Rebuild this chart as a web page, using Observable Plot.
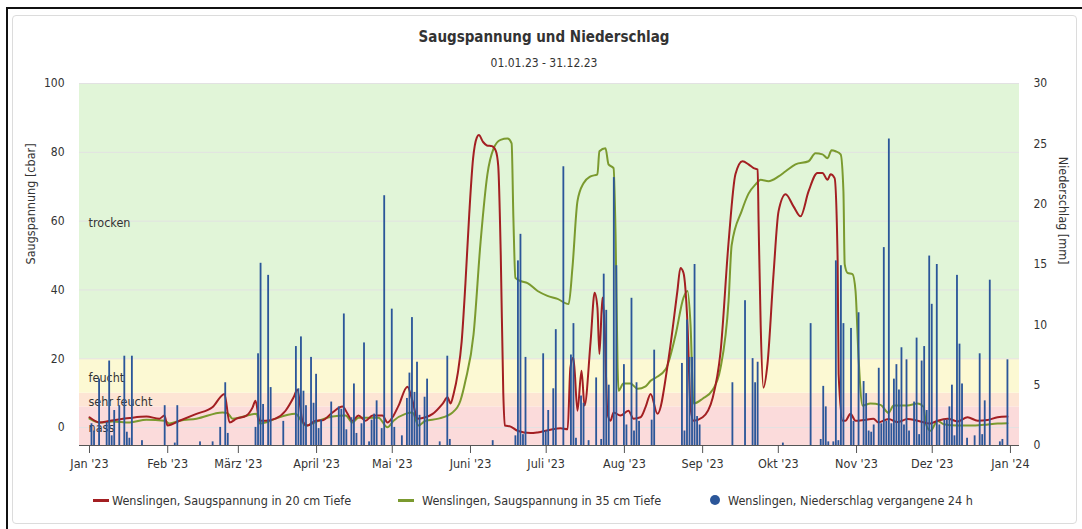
<!DOCTYPE html>
<html><head><meta charset="utf-8">
<script src="https://cdn.jsdelivr.net/npm/d3@7"></script>
<script src="https://cdn.jsdelivr.net/npm/@observablehq/plot@0.6"></script>
<style>
html,body{margin:0;padding:0;background:#fff;}
#wrap{position:relative;width:1082px;height:529px;overflow:hidden;font-family:"DejaVu Sans Condensed","DejaVu Sans",sans-serif;font-stretch:condensed;color:#333;}
#chart{position:absolute;left:0;top:0;}
.bk{position:absolute;background:#111;}
.gr{position:absolute;border:1px solid #dcdcdc;border-radius:4px;}
.ttl{position:absolute;left:0;width:1088px;text-align:center;white-space:nowrap;}
.leg{position:absolute;top:493px;font-size:12.5px;white-space:nowrap;line-height:15px;}
.sw{position:absolute;height:3px;top:499px;}
.dot{position:absolute;width:10px;height:10px;border-radius:50%;top:495px;}
</style></head>
<body><div id="wrap">
<div class="gr" style="left:12px;top:15px;width:1063px;height:507px;"></div>
<div id="chart"></div>
<div class="bk" style="left:6px;top:7px;width:1076px;height:2px;"></div>
<div class="bk" style="left:6px;top:7px;width:2px;height:522px;"></div>
<div class="ttl" id="title" style="top:28px;font-size:15px;font-weight:bold;"></div>
<div class="ttl" id="subtitle" style="top:56px;font-size:12px;"></div>
<div id="legend"></div>
</div>
<script>
// ---- data ----
const titleText = "Saugspannung und Niederschlag";
const subtitleText = "01.01.23 - 31.12.23";
const monthLabels = ["Jan '23","Feb '23","März '23","April '23","Mai '23","Juni '23","Juli '23","Aug '23","Sep '23","Okt '23","Nov '23","Dez '23","Jan '24"];
const leftTicks = [0,20,40,60,80,100];
const rightTicks = [0,5,10,15,20,25,30];
const bandNames = ["nass","sehr feucht","feucht","trocken"];
const bandFrom = [-5.2,6,10,20];
const bandTo = [6,10,20,100];
const seriesNames = ["Wenslingen, Saugspannung in 20 cm Tiefe","Wenslingen, Saugspannung in 35 cm Tiefe","Wenslingen, Niederschlag vergangene 24 h"];

// day of year 2023 (0 = 1 Jan) and suction [cbar], 20 cm
const s20Days = [0,4,8.3,16,22.6,27.7,29.7,30.9,35.7,42.4,48.7,53.5,55.5,58.3,62.2,64.6,65.8,67.4,69.8,73.7,77.7,80.9,82.4,84.4,86.4,89.6,92.3,96.3,100.3,102.3,104.2,106.6,109.4,112.2,116.1,118.1,120.1,122.5,126,128,130,133.2,136,140,141.9,143.1,144.3,146,147.5,149,150.5,152,153.5,154.3,156,157.5,159.5,161,162,163,164,164.6,166.9,169.6,174.8,177.6,182.7,186.7,189.5,190.6,191.8,193.4,195,196.2,198.6,200.2,201.3,202.1,203.3,204.1,205.3,206.5,207.7,210.4,213.6,215.6,218.4,220.4,222.4,225.1,229.5,233,234.2,235.4,237,238.2,239.4,243,247,250.1,253.3,256,258.8,261.2,263.2,264.8,265.2,266,267.1,268.7,271.1,273.1,275.9,279,281.8,285,288.5,290.5,292.5,293.7,295.3,296.5,296.9,298.5,299.6,301.6,303.6,306.8,310.7,312.7,316.7,320.2,324.2,328.2,333.3,336.1,340.1,344,348,352,355.9,359.9,363.8];
const s20Values = [3.0,1.5,2.0,2.8,3.2,2.6,3.5,0.6,2.0,4.0,5.9,9.8,1.5,2.6,3.5,5.8,7.8,2.0,2.0,2.6,4.9,8.8,11,2.0,0.6,2.0,2.1,4.4,6.1,4.0,2.0,3.5,2.0,3.5,3.5,1.5,3.0,6.4,11.9,7.8,2.6,3.0,4.0,7.0,8.8,7.0,9.8,16,25,42,62,78,84.3,85,83,82,81.8,80.5,76,50,10,0.6,0.3,-0.9,-1.6,-1.4,-0.6,-0.2,-0.5,17.5,20.4,4.9,16.5,6.4,25,39.2,34.9,21.4,37.8,30,4,2,4.4,3.5,4.9,2.6,3,6,9.8,4,20,39.7,46.4,45,30,5.8,2,3,8.7,22,54,73.6,77.4,76.5,75.4,75,59,30,11.6,18.5,44.6,62.9,67.8,64.3,61.4,68.7,74,74,72,73.6,72.5,49,15.6,2,2,4,2,2.2,2.6,1.5,2.5,1.6,2.5,2,1.2,2,2.6,1.8,3,2,2.2,3,3.2];

// 35 cm
const s35Days = [0,4,9.1,15.9,22.6,29.7,31.7,35.7,42.4,52.7,54.7,56.7,66.2,67.4,69.8,73.7,81.6,84.4,85.6,90.8,96.3,101.5,104.2,106.6,114.5,118.1,120.5,125.2,128,130.4,133.2,138.3,143.9,147,149,152.2,155,157.7,160.1,162.9,165.7,167.3,168,168.8,170.8,173.6,177.6,181.5,185.5,189.9,191.4,193.4,195.8,198.6,201.3,202.1,204.5,205.7,207.7,208.5,209.3,209.7,211.6,214.4,217.2,220.4,222.4,224.4,228.4,232.3,235.4,237,238.2,239.4,243,247,250,253.3,254.5,258.5,261.2,264,266,269.1,273.1,275.9,279.8,285,287.7,290.5,292.5,294.1,295.7,297.7,298.8,299.3,300.4,302.4,303.6,304.8,306.4,309.5,313.5,316.7,318.7,324.2,328.2,330.6,331.5,333.3,336.1,338.5,344,349.2,354.3,359.9,363.8];
const s35Values = [2.6,1.5,1.8,1.5,2.3,2.0,1.2,2.0,2.6,4.4,4.2,2.6,4.0,1.2,1.5,2.6,4.0,1.5,0.6,2.0,3.2,3.5,1.5,2.9,2.9,0.1,2.0,4.0,4.4,0.6,2.0,2.6,4.4,7.8,13.6,27,54,73.6,81,83.6,84,82.6,61,43.5,42.6,42,39.7,38.3,37.4,35.9,46.4,65.8,71,73,73.6,80.3,81.2,76.5,75.4,56,17.4,10.7,12.8,12.8,11.3,12,13.6,14.5,17,27,37.7,39.7,30,7,8.4,11,17,37,53,63,68,70.7,72,71.6,73,74.5,76.5,77.4,79.7,79.4,78.3,80.6,80.3,79.4,68.7,47.5,45,44.6,39.7,20.3,6.4,7,6.6,4.3,6.4,6.4,7,6,1,-0.9,2,1,0.6,0.6,0.8,1.2,1.3];

// precipitation [mm] per day of year
const rainDays = [1,2,4,7,8,9,10,12,14,15,16,17,21,30,34,35,44,49,52,54,55,66,67,68,69,71,72,77,82,83,84,85,86,88,89,90,91,92,96,99,100,101,102,104,105,106,108,109,111,112,113,114,116,117,120,121,124,126,127,128,129,130,131,133,134,139,142,143,160,169,170,171,172,173,180,181,182,184,185,188,191,192,193,195,196,198,201,203,204,205,206,208,209,212,213,215,216,217,218,223,224,235,236,237,238,239,240,241,242,255,260,263,264,265,275,286,290,291,292,293,295,296,297,298,299,302,303,305,307,308,309,310,311,313,314,315,316,317,318,319,320,321,322,323,324,325,327,328,329,330,331,332,333,334,336,337,339,340,341,342,343,344,345,346,348,351,353,354,355,357,361,362,364];
const rainMm = [1.8,1.2,5.5,1.9,7.0,0.8,2.9,3.3,7.4,1.1,0.6,7.4,0.4,3.3,0.2,3.3,0.3,0.3,1.5,5.2,1.0,1.5,7.6,15.1,3.4,14.1,4.8,2.0,8.2,4.7,9.0,4.5,3.3,7.3,3.5,5.9,1.4,2.1,3.6,3.2,3.0,10.9,1.3,2.3,5.1,1.0,1.8,8.5,0.3,2.1,2.6,3.7,1.4,20.7,11.3,1.5,0.8,3.9,6.0,10.6,4.4,6.9,2.5,4.0,5.5,0.3,7.4,0.5,0.4,0.8,15.3,17.5,0.9,7.3,7.6,1.2,2.9,4.7,9.6,23.1,7.5,10.1,0.6,4.1,3.5,0.4,5.6,0.5,14.2,11.2,5.0,22.2,14.9,6.7,1.7,12.2,1.2,5.2,2.0,2.1,7.9,6.8,1.2,10.4,7.3,7.3,15.0,2.4,1.7,5.2,12.0,7.2,5.2,6.9,0.2,10.1,0.5,4.9,3.2,0.3,0.3,15.3,0.4,14.9,10.1,9.7,2.0,11.0,5.3,4.3,1.2,1.1,1.7,6.4,1.8,16.4,2.0,25.4,1.8,5.5,6.7,4.6,8.1,1.7,7.1,1.2,3.6,8.9,0.9,7.0,8.2,2.9,15.7,11.7,15.0,1.7,2.1,2.1,3.2,5.0,0.8,14.1,8.4,5.1,0.6,0.8,7.6,0.9,3.7,13.7,0.3,0.5,7.1];

// ---- chart ----
const FONT = '"DejaVu Sans Condensed","DejaVu Sans",sans-serif';
const X0 = Date.UTC(2023,0,1), DAY = 864e5;
const toDate = d => new Date(X0 + d*DAY);
const yMin = bandFrom[0];
const mmMax = rightTicks[rightTicks.length-1];
const mmToY = mm => yMin + mm*(100 - yMin)/mmMax;
const xDom = [new Date(Date.UTC(2022,11,28,1)), new Date(Date.UTC(2024,0,4,14))];
const bandColors = ["#fbdbdb","#fde5d4","#fcf9d3","#e1f5d8"];
const c20 = "#a31f22", c35 = "#7b9a2f", cRain = "#2b5699";

const bands = bandNames.map((n,i)=>({name:n, from:bandFrom[i], to:bandTo[i], color:bandColors[i]}));
const s20 = s20Days.map((d,i)=>({date:toDate(d), v:s20Values[i]}));
const s35 = s35Days.map((d,i)=>({date:toDate(d), v:s35Values[i]}));
const rain = rainDays.map((d,i)=>({day:d, mm:rainMm[i]}));
const monthTicks = d3.utcMonth.range(new Date(Date.UTC(2023,0,1)), new Date(Date.UTC(2024,0,2)));

const chart = Plot.plot({
  width:1082, height:529, marginTop:83, marginBottom:84, marginLeft:79, marginRight:63,
  style:{fontFamily:FONT, fontSize:"12.5px", color:"#333", background:"transparent", overflow:"visible"},
  x:{type:"utc", domain:xDom},
  y:{domain:[yMin,100]},
  marks:[
    ...bands.map(b => Plot.rect([b], {x1:()=>xDom[0], x2:()=>xDom[1], y1:"from", y2:"to", fill:b.color})),
    Plot.ruleY(leftTicks, {stroke:"#e2e2e2", strokeWidth:1}),
    Plot.text(bands, {x:()=>xDom[0], y:d=>(d.from+d.to)/2, text:"name", textAnchor:"start", dx:9, dy:2, fill:"#333", fontSize:12.5}),
    Plot.line(s35, {x:"date", y:"v", stroke:c35, strokeWidth:2, curve:"monotone-x"}),
    Plot.line(s20, {x:"date", y:"v", stroke:c20, strokeWidth:2, curve:"monotone-x"}),
    Plot.rect(rain, {x1:d=>toDate(d.day-0.36), x2:d=>toDate(d.day+0.36), y1:yMin, y2:d=>mmToY(d.mm), fill:cRain}),
    Plot.ruleY([yMin], {stroke:"#555", strokeWidth:1}),
    Plot.axisX(monthTicks, {tickSize:8, tickPadding:6, stroke:"#555", color:"#333", fontSize:12.5,
      tickFormat:d=>monthLabels[(d.getUTCFullYear()-2023)*12 + d.getUTCMonth()], label:null}),
    Plot.axisY(leftTicks, {anchor:"left", tickSize:0, tickPadding:15, color:"#333", fontSize:12, label:null}),
    Plot.axisY(rightTicks.map(mmToY), {anchor:"right", tickSize:0, tickPadding:14, color:"#333", fontSize:12, label:null,
      tickFormat:v=>String(Math.round((v - yMin)*mmMax/(100 - yMin)))}),
    Plot.text(["Saugspannung [cbar]"], {frameAnchor:"left", dx:-49, rotate:-90, fill:"#333", fontSize:12.5}),
    Plot.text(["Niederschlag [mm]"], {frameAnchor:"right", dx:43, rotate:90, fill:"#333", fontSize:12.5})
  ]
});
document.getElementById("chart").appendChild(chart);
document.getElementById("title").textContent = titleText;
document.getElementById("subtitle").textContent = subtitleText;

const leg = document.getElementById("legend");
const legItems = [
  {kind:"line", color:c20, sx:93, tx:112},
  {kind:"line", color:c35, sx:398, tx:422},
  {kind:"dot", color:cRain, sx:710, tx:728}
];
legItems.forEach((it,i)=>{
  const s = document.createElement("div");
  if (it.kind === "line") { s.className = "sw"; s.style.width = "16px"; }
  else { s.className = "dot"; }
  s.style.left = it.sx + "px"; s.style.background = it.color;
  leg.appendChild(s);
  const t = document.createElement("div");
  t.className = "leg"; t.style.left = it.tx + "px"; t.textContent = seriesNames[i];
  leg.appendChild(t);
});
</script>
</body></html>
